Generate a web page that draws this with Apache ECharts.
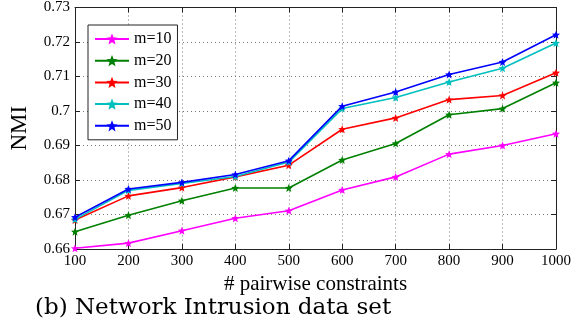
<!DOCTYPE html>
<html>
<head>
<meta charset="utf-8">
<script src="https://cdn.jsdelivr.net/npm/echarts@6/dist/echarts.min.js"></script>
<style>
  html, body { margin: 0; padding: 0; background: #fff; }
  #chart { width: 585px; height: 334px; }
</style>
</head>
<body>
<div id="chart"></div>
<script>
// number of pairwise constraints
const constraints = [100, 200, 300, 400, 500, 600, 700, 800, 900, 1000];

// NMI values for each m
const m10 = [0.6602, 0.6617, 0.6653, 0.6689, 0.6711, 0.6771, 0.6809, 0.6875, 0.6900, 0.6934];
const m20 = [0.6650, 0.6698, 0.6740, 0.6777, 0.6777, 0.6858, 0.6906, 0.6989, 0.7007, 0.7082];
const m30 = [0.6684, 0.6754, 0.6778, 0.6809, 0.6843, 0.6947, 0.6980, 0.7033, 0.7045, 0.7111];
const m40 = [0.6686, 0.6770, 0.6790, 0.6810, 0.6852, 0.7007, 0.7039, 0.7084, 0.7124, 0.7197];
const m50 = [0.6692, 0.6774, 0.6793, 0.6816, 0.6856, 0.7014, 0.7055, 0.7106, 0.7142, 0.7221];

const seriesNames = ["m=10", "m=20", "m=30", "m=40", "m=50"];
const seriesValues = [m10, m20, m30, m40, m50];
const seriesColors = ["#ff00ff", "#008000", "#ff0000", "#00bfbf", "#0000ff"];

const starPath = "path://M0,-10 L2.6,-3.6 L9.5,-3.1 L4.2,1.4 L5.9,8.1 L0,4.4 L-5.9,8.1 L-4.2,1.4 L-9.5,-3.1 L-2.6,-3.6 Z";
const serif = "Liberation Serif";

const chart = echarts.init(document.getElementById("chart"));

const series = seriesNames.map((name, i) => {
  return {
    name: name,
    type: "line",
    data: constraints.map((x, j) => [x, seriesValues[i][j]]),
    symbol: starPath,
    symbolSize: 8,
    showSymbol: true,
    lineStyle: { color: seriesColors[i], width: 1.6 },
    itemStyle: { color: seriesColors[i] },
    z: 3 + i,
  };
});

// box axes (top / right) only carry the inward ticks
const boxAxis = {
  axisLine: { show: true, lineStyle: { color: "#222" } },
  axisTick: { inside: true, length: 5, lineStyle: { color: "#222" } },
  axisLabel: { show: false },
  splitLine: { show: false },
};

const option = {
  backgroundColor: "#fff",
  animation: false,
  grid: {
    left: 70,
    right: 29,
    top: 7,
    bottom: 85,
  },
  legend: {
    data: seriesNames,
    orient: "vertical",
    left: 88,
    top: 25,
    padding: [6, 6, 6, 6],
    itemGap: 5.7,
    itemWidth: 34,
    itemHeight: 14,
    backgroundColor: "#fff",
    borderColor: "#222",
    borderWidth: 1,
    textStyle: { fontFamily: serif, fontSize: 16, color: "#000" },
  },
  xAxis: [
    {
      type: "value",
      min: 100,
      max: 1000,
      interval: 100,
      name: "# pairwise constraints",
      nameLocation: "middle",
      nameGap: 24,
      nameTextStyle: { fontFamily: serif, fontSize: 21, color: "#000" },
      axisLine: { show: true, lineStyle: { color: "#222" } },
      axisTick: { inside: true, length: 5, lineStyle: { color: "#222" } },
      axisLabel: {
        fontFamily: serif,
        fontSize: 15,
        color: "#000",
        margin: 5,
        formatter: (v) => String(v),
      },
      splitLine: { show: true, lineStyle: { color: "#777", type: [1, 3] } },
    },
    Object.assign({ type: "value", min: 100, max: 1000, interval: 100, position: "top" }, boxAxis),
  ],
  yAxis: [
    {
      type: "value",
      min: 0.66,
      max: 0.73,
      interval: 0.01,
      name: "NMI",
      nameLocation: "middle",
      nameGap: 44,
      nameRotate: 90,
      nameTextStyle: { fontFamily: serif, fontSize: 23, color: "#000" },
      axisLine: { show: true, lineStyle: { color: "#222" } },
      axisTick: { inside: true, length: 5, lineStyle: { color: "#222" } },
      axisLabel: {
        fontFamily: serif,
        fontSize: 15,
        color: "#000",
        margin: 5,
        formatter: (v) => String(parseFloat(v.toFixed(2))),
      },
      splitLine: { show: true, lineStyle: { color: "#777", type: [1, 3] } },
    },
    Object.assign({ type: "value", min: 0.66, max: 0.73, interval: 0.01, position: "right" }, boxAxis),
  ],
  graphic: [
    {
      type: "text",
      left: 35,
      top: 297,
      style: {
        text: "(b) Network Intrusion data set",
        fontFamily: "DejaVu Serif",
        fontSize: 23,
        fill: "#000",
      },
    },
  ],
  series: series,
};

chart.setOption(option);
</script>
</body>
</html>
